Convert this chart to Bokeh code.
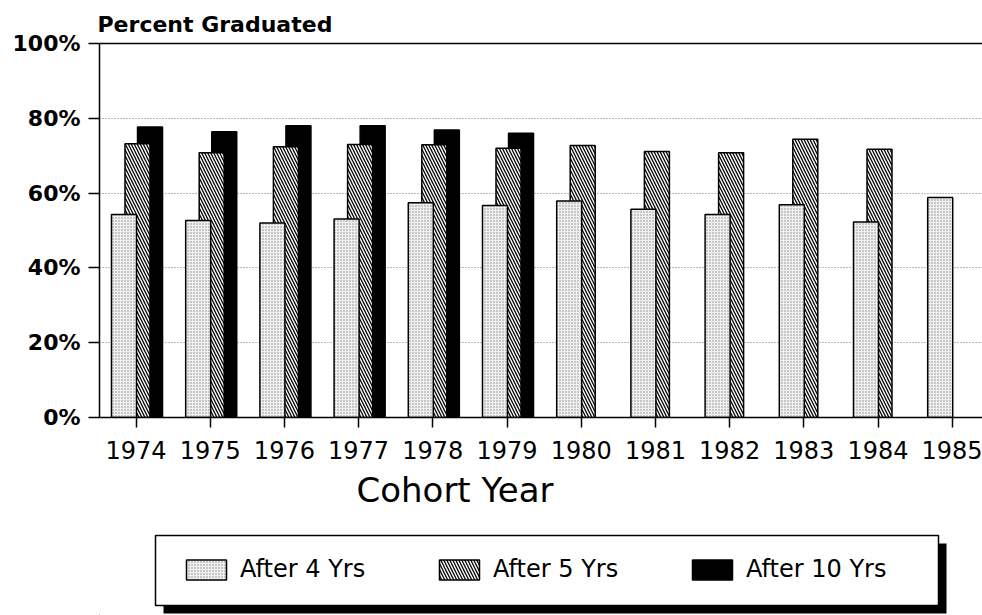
from bokeh.plotting import figure
from bokeh.models import (FixedTicker, LinearAxis, Range1d, PrintfTickFormatter,
                          Legend, LegendItem, Title)
from bokeh.layouts import column
from bokeh.embed import file_html
from bokeh.resources import INLINE

# ---------------- data ----------------
years = ["1974", "1975", "1976", "1977", "1978", "1979",
         "1980", "1981", "1982", "1983", "1984", "1985"]
after_4_yrs = [54.3, 52.7, 52.0, 53.1, 57.4, 56.7, 57.9, 55.7, 54.3, 56.9, 52.3, 58.8]
after_5_yrs = [73.2, 70.8, 72.4, 73.0, 72.9, 72.0, 72.7, 71.1, 70.8, 74.4, 71.7]
after_10_yrs = [77.7, 76.4, 78.0, 78.0, 76.9, 76.0]
y_ticks = [0, 20, 40, 60, 80, 100]
series_labels = ["After 4 Yrs", "After 5 Yrs", "After 10 Yrs"]

# ---------------- styles ----------------
FONT = "DejaVu Sans"
W = 982
H_MAIN = 525
H_LEG = 90
LEFT = 99
BAR_W = 0.337
OFF_4, OFF_5, OFF_10 = -0.162, 0.02, 0.189

style_4 = dict(fill_color="#f0f0f0", hatch_pattern="dot", hatch_color="#8a8a8a",
               hatch_scale=3, hatch_weight=1, line_color="black", line_width=1.5)
style_5 = dict(fill_color="white", hatch_pattern="left_diagonal_line", hatch_color="black",
               hatch_scale=6, hatch_weight=1.3, line_color="black", line_width=1.5)
style_10 = dict(fill_color="black", line_color="black", line_width=1.5)

pos = list(range(len(years)))

p = figure(width=W, height=H_MAIN,
           x_range=Range1d(-0.492, 11.408), y_range=Range1d(0, 100),
           output_backend="svg", toolbar_location=None,
           min_border_left=LEFT, min_border_right=0,
           min_border_top=43, min_border_bottom=108)
p.outline_line_color = None
p.background_fill_color = "white"

# bars: back to front
p.vbar(x=[i + OFF_10 for i in pos[:len(after_10_yrs)]], top=after_10_yrs, width=BAR_W, **style_10)
p.vbar(x=[i + OFF_5 for i in pos[:len(after_5_yrs)]], top=after_5_yrs, width=BAR_W, **style_5)
p.vbar(x=[i + OFF_4 for i in pos[:len(after_4_yrs)]], top=after_4_yrs, width=BAR_W, **style_4)

# title
p.title.text = "Percent Graduated"
p.title.align = "left"
p.title.offset = -2
p.title.standoff = 14
p.title.text_font = FONT
p.title.text_font_size = "22px"
p.title.text_font_style = "bold"
p.title.text_color = "black"

# x axis
xa = p.xaxis[0]
xa.ticker = FixedTicker(ticks=pos)
xa.major_label_overrides = {i: y for i, y in zip(pos, years)}
xa.major_label_text_font = FONT
xa.major_label_text_font_size = "24px"
xa.major_label_text_color = "black"
xa.major_label_standoff = 13
xa.major_tick_out = 10
xa.major_tick_in = 0
xa.minor_tick_out = 0
xa.major_tick_line_width = 1.5
xa.axis_line_width = 1.5

# x axis title (off-centre in the reference)
p.add_layout(Title(text="Cohort Year", align="left", offset=257, standoff=13,
                   text_font=FONT, text_font_size="34px", text_font_style="normal",
                   text_color="black"), "below")

# y axis
ya = p.yaxis[0]
ya.ticker = FixedTicker(ticks=y_ticks)
ya.formatter = PrintfTickFormatter(format="%d%%")
ya.major_label_text_font = FONT
ya.major_label_text_font_size = "22px"
ya.major_label_text_font_style = "bold"
ya.major_label_text_color = "black"
ya.major_label_standoff = 8
ya.major_tick_out = 11
ya.major_tick_in = 0
ya.minor_tick_out = 0
ya.minor_tick_in = 0
ya.major_tick_line_width = 1.5
ya.axis_line_width = 1.5

# top frame line
top_ax = LinearAxis(ticker=FixedTicker(ticks=[]), axis_line_color="black",
                    axis_line_width=1.5, major_tick_out=0, major_tick_in=0,
                    minor_tick_out=0, minor_tick_in=0)
p.add_layout(top_ax, "above")

# grid
p.xgrid.grid_line_color = None
p.ygrid.ticker = FixedTicker(ticks=y_ticks)
p.ygrid.grid_line_color = "#777777"
p.ygrid.grid_line_dash = "1 2"
p.ygrid.grid_line_width = 1

# ---------------- legend panel with drop shadow ----------------
lp = figure(width=W, height=H_LEG, x_range=Range1d(LEFT, W), y_range=Range1d(0, H_LEG),
            x_axis_type=None, y_axis_type=None, toolbar_location=None,
            output_backend="svg", min_border_left=LEFT, min_border_right=0,
            min_border_top=0, min_border_bottom=0)
lp.outline_line_color = None
lp.quad(left=[163], right=[946], bottom=[2], top=[72], fill_color="black", line_color=None)
lp.quad(left=[155], right=[938], bottom=[10], top=[80], fill_color="white",
        line_color="black", line_width=1.5)

# legend-only renderers (placed far outside the visible range)
r4 = lp.vbar(x=[-5000], bottom=[-5000], top=[-5000], width=0, **style_4)
r5 = lp.vbar(x=[-5000], bottom=[-5000], top=[-5000], width=0, **style_5)
r10 = lp.vbar(x=[-5000], bottom=[-5000], top=[-5000], width=0, **style_10)

legend = Legend(items=[LegendItem(label=series_labels[0], renderers=[r4]),
                       LegendItem(label=series_labels[1], renderers=[r5]),
                       LegendItem(label=series_labels[2], renderers=[r10])],
                orientation="horizontal", location=(82, 32),
                glyph_width=50, glyph_height=25, label_standoff=9,
                label_width=194, spacing=0, padding=0, margin=0,
                border_line_color=None, background_fill_alpha=0,
                label_text_font=FONT, label_text_font_size="24px",
                label_text_color="black")
lp.add_layout(legend)

layout = column(p, lp, spacing=0)

open("out.html", "w").write(file_html(layout, INLINE))
